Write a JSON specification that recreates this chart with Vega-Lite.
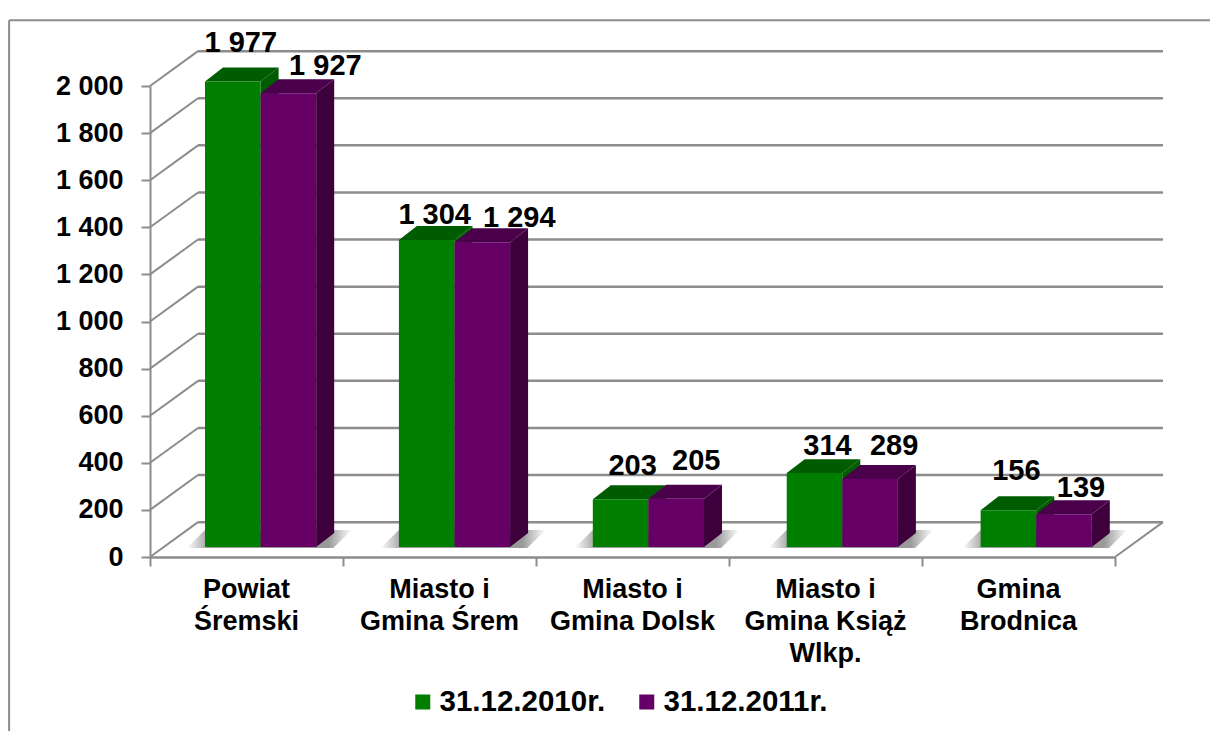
{
"$schema":"https://vega.github.io/schema/vega-lite/v6.json",
"width":965,"height":471,
"padding":{"left":150,"top":86,"right":95,"bottom":174},
"autosize":"none",
"background":"white",
"config":{"view":{"stroke":null},"font":"Liberation Sans"},
"data":{"name":"bars","values":[
{"category":"Powiat\nŚremski","series":"31.12.2010r.","value":1977},
{"category":"Powiat\nŚremski","series":"31.12.2011r.","value":1927},
{"category":"Miasto i\nGmina Śrem","series":"31.12.2010r.","value":1304},
{"category":"Miasto i\nGmina Śrem","series":"31.12.2011r.","value":1294},
{"category":"Miasto i\nGmina Dolsk","series":"31.12.2010r.","value":203},
{"category":"Miasto i\nGmina Dolsk","series":"31.12.2011r.","value":205},
{"category":"Miasto i\nGmina Książ\nWlkp.","series":"31.12.2010r.","value":314},
{"category":"Miasto i\nGmina Książ\nWlkp.","series":"31.12.2011r.","value":289},
{"category":"Gmina\nBrodnica","series":"31.12.2010r.","value":156},
{"category":"Gmina\nBrodnica","series":"31.12.2011r.","value":139}
]},
"datasets":{
"ticks":[{"v":0},{"v":200},{"v":400},{"v":600},{"v":800},{"v":1000},{"v":1200},{"v":1400},{"v":1600},{"v":1800},{"v":2000}]
},
"transform":[
{"calculate":"indexof(['Powiat\\nŚremski','Miasto i\\nGmina Śrem','Miasto i\\nGmina Dolsk','Miasto i\\nGmina Książ\\nWlkp.','Gmina\\nBrodnica'],datum.category)","as":"i"},
{"calculate":"datum.series=='31.12.2010r.'?0:1","as":"s"},
{"calculate":"0.285+datum.i*1.0047+datum.s*0.288","as":"xl"},
{"calculate":"datum.xl+0.288","as":"xr"},
{"calculate":"42.5","as":"base"},
{"calculate":"datum.value+datum.base","as":"top"},
{"calculate":"[0,1]","as":"k"},
{"flatten":["k"]},
{"calculate":"datum.i+'-'+datum.s","as":"key"}
],
"layer":[
{"data":{"values":[{"a":1}]},
 "mark":{"type":"rule","stroke":"#8c8c8c","strokeWidth":2},
 "encoding":{"x":{"datum":-0.73,"type":"quantitative"},"x2":{"datum":5.5},"y":{"datum":2279,"type":"quantitative"}}},
{"data":{"values":[{"a":1}]},
 "mark":{"type":"rule","stroke":"#8c8c8c","strokeWidth":2},
 "encoding":{"x":{"datum":-0.73,"type":"quantitative"},"y":{"datum":2279,"type":"quantitative"},"y2":{"datum":-739}}},
{"data":{"name":"ticks"},"transform":[{"calculate":"datum.v+148","as":"back"}],
 "mark":{"type":"rule","stroke":"#8c8c8c","strokeWidth":2},
 "encoding":{"x":{"datum":0,"type":"quantitative"},"x2":{"datum":0.2487},"y":{"field":"v","type":"quantitative"},"y2":{"field":"back"}}},
{"data":{"name":"ticks"},"transform":[{"calculate":"datum.v+148","as":"back"}],
 "mark":{"type":"rule","stroke":"#8c8c8c","strokeWidth":2.5},
 "encoding":{"x":{"datum":0.2487,"type":"quantitative"},"x2":{"datum":5.2487},"y":{"field":"back","type":"quantitative"}}},
{"data":{"values":[{"a":1}]},
 "mark":{"type":"rule","stroke":"#8c8c8c","strokeWidth":2},
 "encoding":{"x":{"datum":5,"type":"quantitative"},"x2":{"datum":5.2487},"y":{"datum":0,"type":"quantitative"},"y2":{"datum":148}}},
{"transform":[{"filter":"datum.s==0"},{"calculate":"datum.k==0?38:115","as":"sy"},{"calculate":"datum.xl-0.095+datum.i*0+datum.k*0.095","as":"x1"},{"calculate":"datum.x1+0.76","as":"x2b"}],
 "mark":{"type":"area","orient":"horizontal","fill":{"gradient":"linear","x1":0,"y1":0,"x2":1,"y2":0,"stops":[{"offset":0,"color":"#ffffff"},{"offset":0.14,"color":"#9a9a9a"},{"offset":0.86,"color":"#9a9a9a"},{"offset":1,"color":"#ffffff"}]}},
 "encoding":{"y":{"field":"sy","type":"quantitative"},"x":{"field":"x1","type":"quantitative"},"x2":{"field":"x2b"},"detail":{"field":"key"}}},
{"transform":[{"filter":"datum.s==0"},{"calculate":"datum.xr+datum.k*0.0933","as":"ax"},{"calculate":"datum.base+datum.k*59","as":"ay"},{"calculate":"datum.top+datum.k*59","as":"ay2"}],
 "mark":{"type":"area","fill":"#005c00"},
 "encoding":{"x":{"field":"ax","type":"quantitative"},"y":{"field":"ay","type":"quantitative"},"y2":{"field":"ay2"},"detail":{"field":"key"}}},
{"transform":[{"filter":"datum.s==0"},{"calculate":"datum.top+datum.k*59","as":"ty"},{"calculate":"datum.xl+datum.k*0.0933","as":"tx"},{"calculate":"datum.xr+datum.k*0.0933","as":"tx2"}],
 "mark":{"type":"area","orient":"horizontal","fill":"#005c00"},
 "encoding":{"y":{"field":"ty","type":"quantitative"},"x":{"field":"tx","type":"quantitative"},"x2":{"field":"tx2"},"detail":{"field":"key"}}},
{"transform":[{"filter":"datum.s==0 && datum.k==0"}],
 "mark":{"type":"rect"},
 "encoding":{"x":{"field":"xl","type":"quantitative"},"x2":{"field":"xr"},"y":{"field":"top","type":"quantitative"},"y2":{"field":"base"},
  "color":{"field":"series","type":"nominal","scale":{"domain":["31.12.2010r.","31.12.2011r."],"range":["#007e00","#660066"]},
   "legend":{"orient":"none","legendX":258,"legendY":601,"direction":"horizontal","title":null,"symbolType":"square","symbolSize":225,"symbolStrokeWidth":0,"symbolOpacity":1,"labelFont":"Liberation Sans","labelFontWeight":"bold","labelFontSize":29.5,"labelColor":"#000000","labelOffset":2,"labelLimit":300,"columnPadding":26,"padding":0,"clipHeight":30}}}},
{"transform":[{"filter":"datum.s==1"},{"calculate":"datum.xr+datum.k*0.0933","as":"ax"},{"calculate":"datum.base+datum.k*59","as":"ay"},{"calculate":"datum.top+datum.k*59","as":"ay2"}],
 "mark":{"type":"area","fill":"#3d003d"},
 "encoding":{"x":{"field":"ax","type":"quantitative"},"y":{"field":"ay","type":"quantitative"},"y2":{"field":"ay2"},"detail":{"field":"key"}}},
{"transform":[{"filter":"datum.s==1"},{"calculate":"datum.top+datum.k*59","as":"ty"},{"calculate":"datum.xl+datum.k*0.0933","as":"tx"},{"calculate":"datum.xr+datum.k*0.0933","as":"tx2"}],
 "mark":{"type":"area","orient":"horizontal","fill":"#4b004b"},
 "encoding":{"y":{"field":"ty","type":"quantitative"},"x":{"field":"tx","type":"quantitative"},"x2":{"field":"tx2"},"detail":{"field":"key"}}},
{"transform":[{"filter":"datum.s==1 && datum.k==0"}],
 "mark":{"type":"rect"},
 "encoding":{"x":{"field":"xl","type":"quantitative"},"x2":{"field":"xr"},"y":{"field":"top","type":"quantitative"},"y2":{"field":"base"},
  "color":{"field":"series","type":"nominal"}}},
{"transform":[{"filter":"datum.k==0"},
  {"calculate":"[[8,38],[37,27],[8,25],[37,24],[12,33],[20,38],[13,27],[24,33],[8,39],[17,26]][datum.i*2+datum.s]","as":"nudge"},
  {"calculate":"datum.xl+0.144+datum.nudge[0]/193","as":"lx"},
  {"calculate":"datum.top+datum.nudge[1]/0.2355","as":"ly"},
  {"calculate":"replace(format(datum.value,','),',',' ')","as":"label"}],
 "mark":{"type":"text","font":"Liberation Sans","fontWeight":"bold","fontSize":29,"baseline":"middle","align":"center","color":"#000000"},
 "encoding":{"x":{"field":"lx","type":"quantitative"},"y":{"field":"ly","type":"quantitative"},"text":{"field":"label"}}},
{"transform":[{"filter":"datum.k==0 && datum.s==0"},{"calculate":"datum.i+0.5","as":"cx"}],
 "mark":{"type":"text","font":"Liberation Sans","fontWeight":"bold","fontSize":27,"baseline":"top","align":"center","color":"#000000","lineBreak":"\n","lineHeight":32},
 "encoding":{"x":{"field":"cx","type":"quantitative"},"y":{"datum":-85,"type":"quantitative"},"text":{"field":"category"}}},
{"data":{"values":[{"a":1}]},
 "mark":{"type":"rule","strokeWidth":0},
 "encoding":{
  "x":{"datum":0,"type":"quantitative","scale":{"domain":[0,5],"nice":false,"zero":false},
   "axis":{"title":null,"values":[0,1,2,3,4,5],"labels":false,"grid":false,"domainColor":"#8c8c8c","domainWidth":2.5,"tickColor":"#8c8c8c","tickWidth":2,"tickSize":9}},
  "y":{"datum":0,"type":"quantitative","scale":{"domain":[0,2000],"nice":false,"zero":false},
   "axis":{"title":null,"values":[0,200,400,600,800,1000,1200,1400,1600,1800,2000],"grid":false,"domainColor":"#8c8c8c","domainWidth":2,"tickColor":"#8c8c8c","tickWidth":2,"tickSize":9,"labelFont":"Liberation Sans","labelFontWeight":"bold","labelFontSize":27,"labelColor":"#000000","labelPadding":18,"labelExpr":"replace(format(datum.value,','),',',' ')"}}}}
]
}
